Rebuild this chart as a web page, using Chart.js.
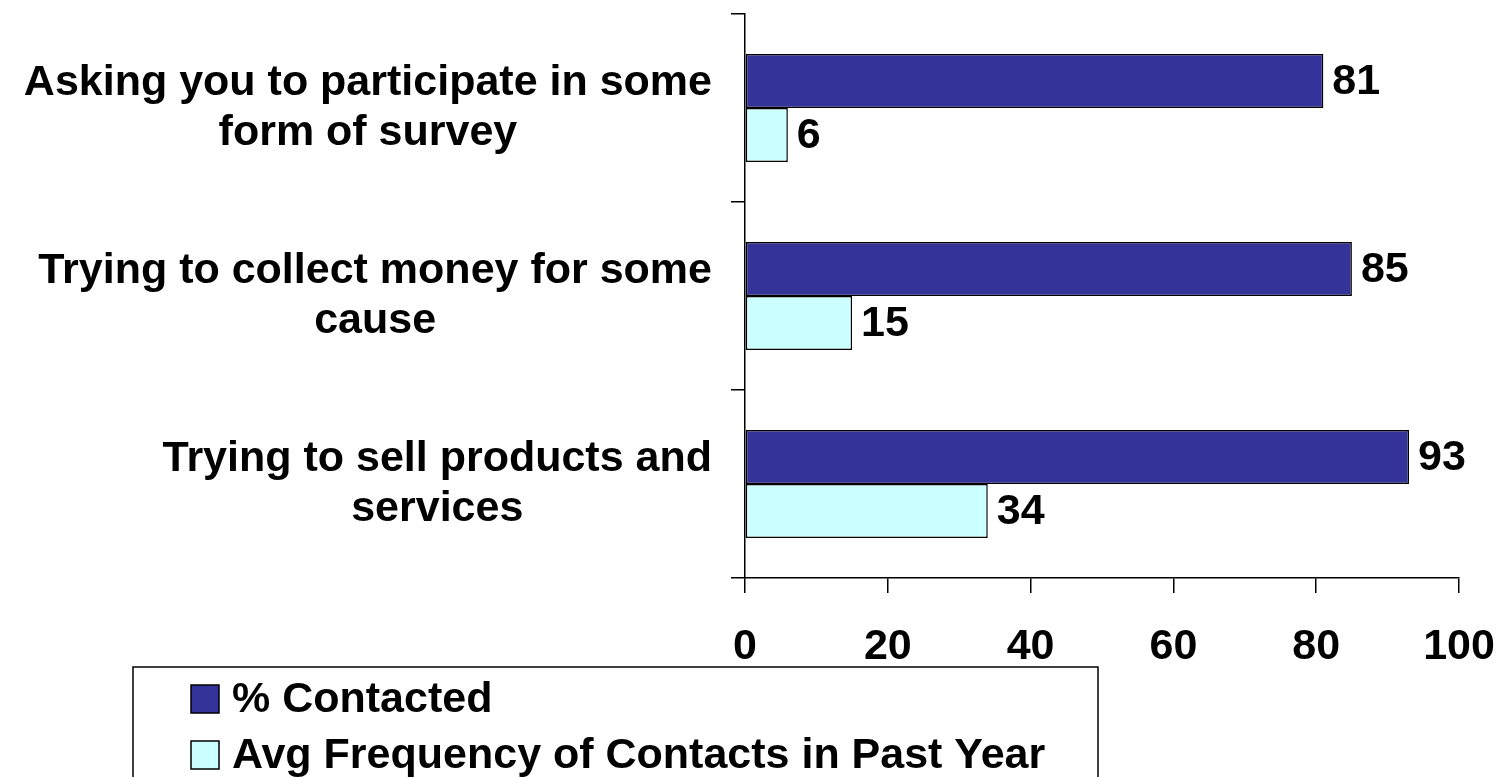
<!DOCTYPE html>
<html>
<head>
<meta charset="utf-8">
<script src="https://cdn.jsdelivr.net/npm/chart.js@4"></script>
<style>
  html, body { margin: 0; padding: 0; background: #fff; }
  #wrap { width: 1498px; height: 777px; }
</style>
</head>
<body>
<div id="wrap"><canvas id="chartBar"></canvas></div>
<script>
const categories = [
  ["Asking you to participate in some", "form of survey"],
  ["Trying to collect money for some", "cause"],
  ["Trying to sell products and", "services"]
];
const contacted = [81, 85, 93];
const avgFrequency = [6, 15, 34];
const seriesNames = ["% Contacted", "Avg Frequency of Contacts in Past Year"];
const xTicks = [0, 20, 40, 60, 80, 100];

const FONT = '"Liberation Sans", Arial, sans-serif';
const BOLD = "bold 43px " + FONT;

// category labels: each block right-aligned to the axis, lines centred inside it
const yLabels = {
  id: "yLabels",
  afterDraw(chart) {
    const ctx = chart.ctx, y = chart.scales.y;
    ctx.save();
    ctx.font = BOLD;
    ctx.fillStyle = "#000";
    ctx.textAlign = "center";
    ctx.textBaseline = "middle";
    const lh = 50;
    categories.forEach((lines, i) => {
      const w = Math.max(...lines.map(l => ctx.measureText(l).width));
      const cx = 712 - w / 2;
      const cy = y.getPixelForValue(i);
      lines.forEach((l, k) => {
        ctx.fillText(l, cx, cy + (k - (lines.length - 1) / 2) * lh);
      });
    });
    ctx.restore();
  }
};

// value labels just past the end of each bar
const valueLabels = {
  id: "valueLabels",
  afterDatasetsDraw(chart) {
    const ctx = chart.ctx;
    ctx.save();
    ctx.font = BOLD;
    ctx.fillStyle = "#000";
    ctx.textAlign = "left";
    ctx.textBaseline = "middle";
    chart.data.datasets.forEach((ds, di) => {
      chart.getDatasetMeta(di).data.forEach((bar, i) => {
        ctx.fillText(ds.data[i], bar.x + 9, bar.y + 1);
      });
    });
    ctx.restore();
  }
};

// boxed legend under the axis
const boxLegend = {
  id: "boxLegend",
  afterDraw(chart) {
    const ctx = chart.ctx;
    ctx.save();
    ctx.strokeStyle = "#000";
    ctx.lineWidth = 1.5;
    ctx.strokeRect(133, 667, 965, 130);
    ctx.font = BOLD;
    ctx.textBaseline = "middle";
    chart.data.datasets.forEach((ds, i) => {
      const top = 685 + i * 56;
      ctx.fillStyle = ds.backgroundColor;
      ctx.fillRect(191, top, 28, 28);
      ctx.lineWidth = 1.5;
      ctx.strokeRect(191, top, 28, 28);
      ctx.fillStyle = "#000";
      ctx.fillText(ds.label, 232, top + 15);
    });
    ctx.restore();
  }
};

new Chart(document.querySelector("#chartBar"), {
  type: "bar",
  data: {
    labels: categories,
    datasets: [{
      label: seriesNames[0],
      data: contacted,
      backgroundColor: "#333399",
      borderColor: "#000",
      borderWidth: 1.5,
      borderSkipped: false,
      categoryPercentage: 0.574,
      barPercentage: 1
    }, {
      label: seriesNames[1],
      data: avgFrequency,
      backgroundColor: "#CCFFFF",
      borderColor: "#000",
      borderWidth: 1.5,
      borderSkipped: false,
      categoryPercentage: 0.574,
      barPercentage: 1
    }]
  },
  options: {
    indexAxis: "y",
    responsive: true,
    maintainAspectRatio: false,
    animation: false,
    layout: { padding: { top: 14, right: 39, left: 0, bottom: 0 } },
    plugins: {
      legend: { display: false },
      tooltip: { enabled: false }
    },
    scales: {
      x: {
        min: xTicks[0],
        max: xTicks[xTicks.length - 1],
        afterBuildTicks: s => { s.ticks = xTicks.map(v => ({ value: v })); },
        afterFit: s => { s.height = 199; s.paddingLeft = 0; s.paddingRight = 0; },
        grid: { drawOnChartArea: false, color: "#000", lineWidth: 1.5, tickLength: 15 },
        border: { color: "#000", width: 1.5 },
        ticks: { color: "#000", padding: 28, font: { family: FONT, size: 43, weight: "bold" } }
      },
      y: {
        afterFit: s => { s.width = 745; },
        grid: { drawOnChartArea: false, color: "#000", lineWidth: 1.5, tickLength: 14, offset: true },
        border: { color: "#000", width: 1.5 },
        ticks: { display: false }
      }
    }
  },
  plugins: [yLabels, valueLabels, boxLegend]
});
</script>
</body>
</html>
